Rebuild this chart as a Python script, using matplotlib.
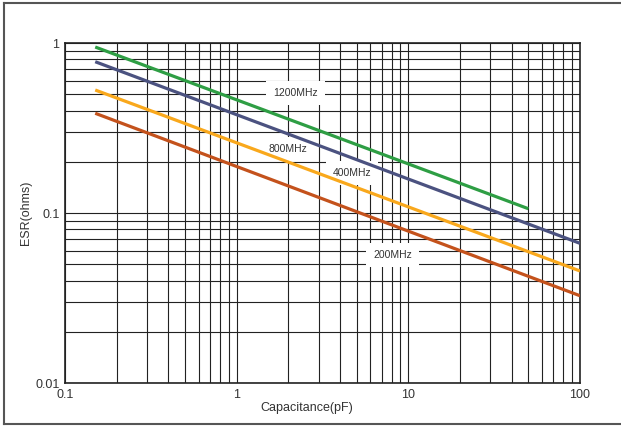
import matplotlib.pyplot as plt
from matplotlib.lines import Line2D

plt.rcParams['font.family'] = ['Liberation Sans', 'DejaVu Sans']

# ESR vs capacitance
cap_1200 = [0.15, 50]
esr_1200 = [0.947, 0.106]
cap_800 = [0.15, 100]
esr_800 = [0.776, 0.0663]
cap_400 = [0.15, 100]
esr_400 = [0.529, 0.0456]
cap_200 = [0.15, 100]
esr_200 = [0.386, 0.0326]

series = [
    ("1200MHz", cap_1200, esr_1200, "#2e9e44", (2.2, 0.508)),
    ("800MHz", cap_800, esr_800, "#4b5280", (2.0, 0.238)),
    ("400MHz", cap_400, esr_400, "#f9a81c", (4.7, 0.172)),
    ("200MHz", cap_200, esr_200, "#c4521c", (8.1, 0.0566)),
]

x_ticks = [0.1, 1, 10, 100]
x_labels = ["0.1", "1", "10", "100"]
y_ticks = [0.01, 0.1, 1]
y_labels = ["0.01", "0.1", "1"]

fig = plt.figure(figsize=(6.21, 4.26), dpi=100)
ax = fig.add_axes([65 / 621, 1 - 383 / 426, 515 / 621, 340 / 426])

for name, cap, esr, color, pos in series:
    ax.plot(cap, esr, color=color, lw=2.3, solid_capstyle='butt', zorder=3)

ax.set_xscale('log')
ax.set_yscale('log')
ax.set_xlim(0.1, 100)
ax.set_ylim(0.01, 1)
ax.set_xticks(x_ticks)
ax.set_xticklabels(x_labels)
ax.set_yticks(y_ticks)
ax.set_yticklabels(y_labels)
ax.tick_params(which='both', length=0, labelsize=9, colors='#333333', pad=4)
ax.grid(True, which='both', color='#222222', lw=0.8)
ax.set_axisbelow(True)
for sp in ax.spines.values():
    sp.set_color('#222222')
    sp.set_linewidth(1.2)

# labels sit above the grid but under the curves
for name, cap, esr, color, pos in series:
    ax.text(pos[0], pos[1], name, ha='center', va='center', fontsize=7.5,
            color='#333333', zorder=2.5,
            bbox=dict(facecolor='white', edgecolor='none', pad=5))

ax.set_xlabel("Capacitance(pF)", fontsize=9, color='#333333')
ax.xaxis.set_label_coords(0.47, -0.055)
ax.set_ylabel("ESR(ohms)", fontsize=9, color='#333333', labelpad=2)

# figure frame (right side is cut off in the original)
frame_kw = dict(color='#555555', lw=1.5, transform=fig.transFigure)
fig.add_artist(Line2D([4 / 621, 1], [1 - 3 / 426, 1 - 3 / 426], **frame_kw))
fig.add_artist(Line2D([4 / 621, 1], [1 - 424 / 426, 1 - 424 / 426], **frame_kw))
fig.add_artist(Line2D([4 / 621, 4 / 621], [1 - 3 / 426, 1 - 424 / 426], **frame_kw))

fig.savefig("out.png", dpi=100)
